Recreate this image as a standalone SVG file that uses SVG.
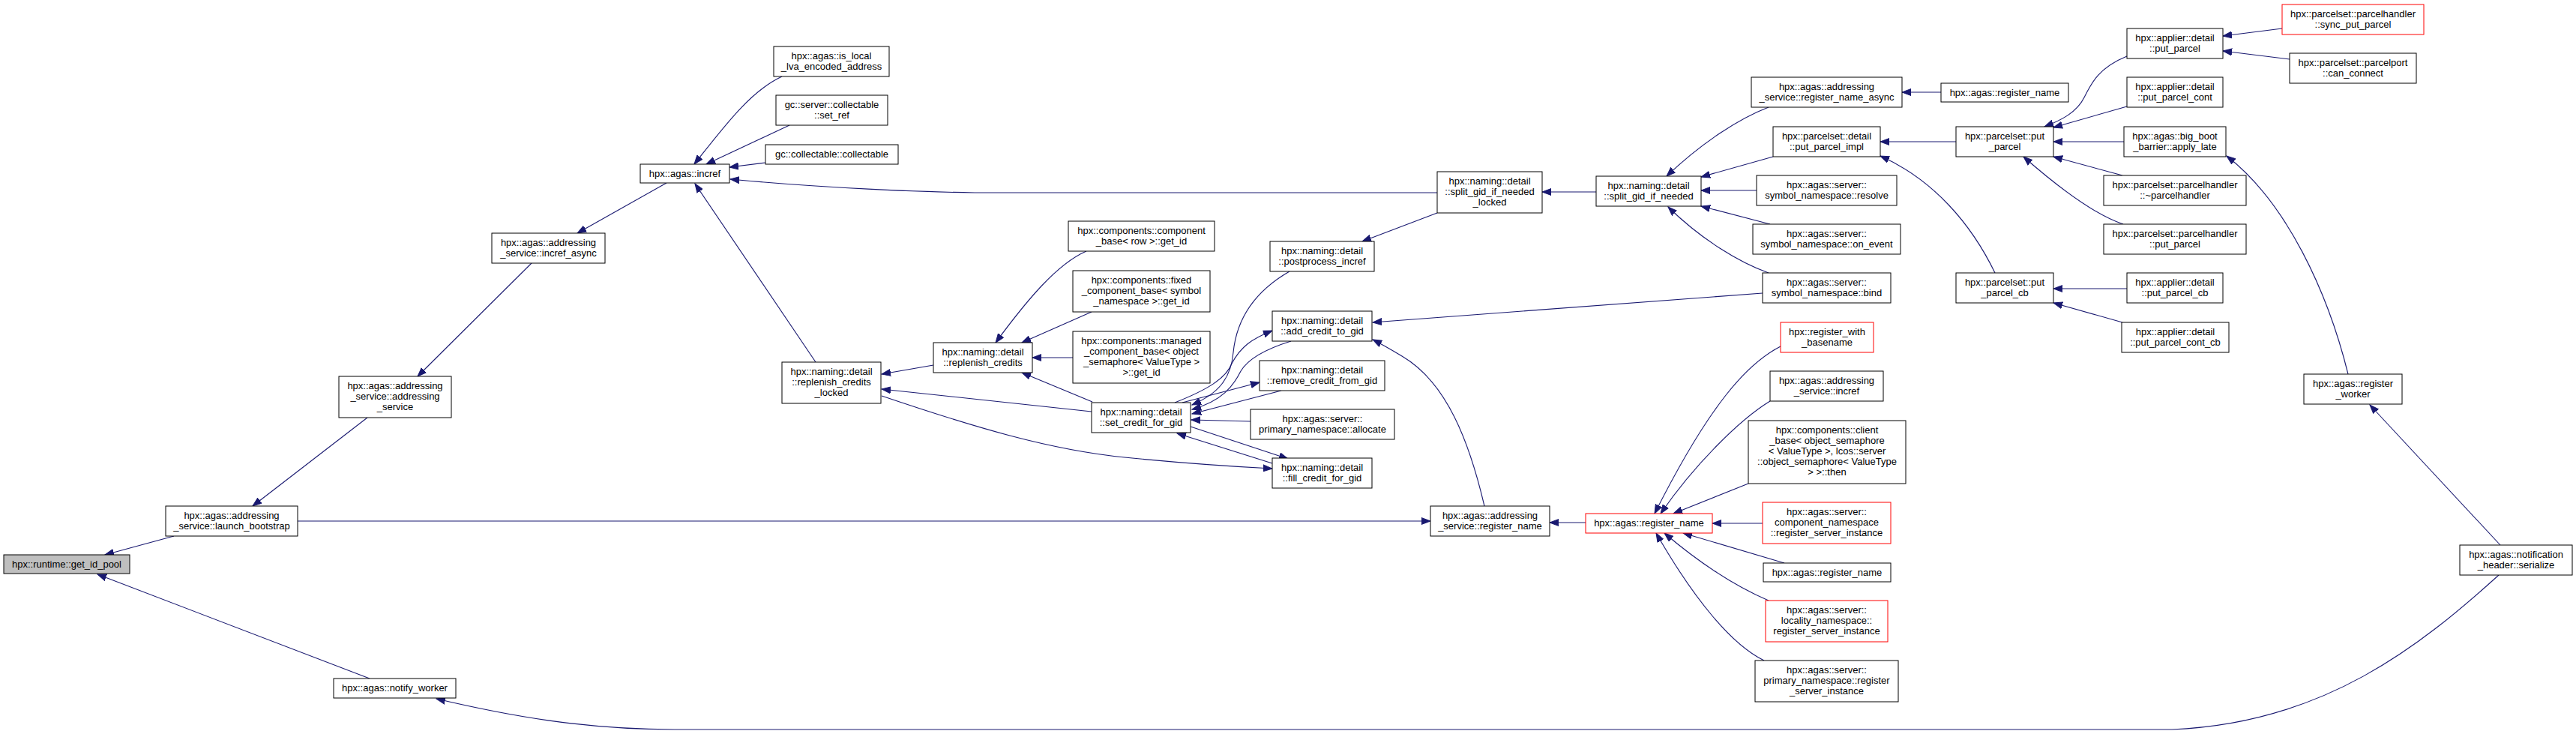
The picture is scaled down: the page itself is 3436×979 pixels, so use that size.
<svg xmlns="http://www.w3.org/2000/svg" width="3436" height="979" viewBox="0 0 3436 979">
<style>
.n rect{fill:#fff;stroke:#000;stroke-width:1}
.n.red rect{stroke:#ff0000}
.n.root rect{fill:#bfbfbf}
.n text{font-family:"Liberation Sans",Arial,sans-serif;font-size:13px;fill:#000;text-anchor:middle}
#edges path{fill:none;stroke:#191970;stroke-width:1.1;marker-end:url(#ah)}
</style>
<defs>
<marker id="ah" markerUnits="userSpaceOnUse" markerWidth="13" markerHeight="10" refX="12" refY="5" orient="auto" viewBox="0 0 13 10"><path d="M0,0.5 L12,5 L0,9.5 z" fill="#191970" stroke="#191970"/></marker>
</defs>
<rect width="3436" height="979" fill="#fff"/>
<g id="edges">
<path d="M232,715 L140,740"/>
<path d="M493,905 L130,766"/>
<path d="M490,557 L337,675"/>
<path d="M709,351 L557,502"/>
<path d="M889,244 L770,311"/>
<path d="M1043,102 C1000,122 965,170 926,219"/>
<path d="M1053,167 L942,219"/>
<path d="M1021,217 L973,223"/>
<path d="M1917,257 L1300,257 C1230,256 1100,251 974,239"/>
<path d="M1088,483 L927,245"/>
<path d="M1245,487 L1176,499"/>
<path d="M1456,549 L1176,519"/>
<path d="M1176,528 C1300,570 1400,600 1500,610 C1580,618 1640,622 1697,625"/>
<path d="M1449,335 C1410,352 1370,400 1328,457"/>
<path d="M1456,416 L1363,457"/>
<path d="M1431,477 L1377,477"/>
<path d="M1457,536 L1363,497"/>
<path d="M1567,537 C1610,520 1635,505 1643,485 C1655,462 1670,452 1697,441"/>
<path d="M1577,537 L1680,510"/>
<path d="M1720,362 C1680,385 1650,420 1645,470 C1642,505 1625,525 1590,540"/>
<path d="M1722,455 C1690,465 1665,478 1655,495 C1645,515 1630,535 1590,546"/>
<path d="M1709,521 L1590,552"/>
<path d="M1668,562 L1589,560"/>
<path d="M1588,569 L1718,612"/>
<path d="M1697,618 L1570,578"/>
<path d="M2351,391 L1831,430"/>
<path d="M1980,675 C1960,590 1930,510 1870,475 C1855,466 1845,460 1831,453"/>
<path d="M1917,284 L1817,322"/>
<path d="M2129,256 L2057,256"/>
<path d="M2359,143 C2320,158 2270,190 2223,235"/>
<path d="M2365,209 L2269,236"/>
<path d="M2343,254 L2269,254"/>
<path d="M2361,299 L2269,275"/>
<path d="M2359,364 C2320,350 2270,320 2225,276"/>
<path d="M2589,123 L2537,123"/>
<path d="M2609,189 L2508,189"/>
<path d="M2661,364 C2630,300 2580,240 2508,208"/>
<path d="M2837,75 C2800,90 2790,110 2780,130 C2770,150 2750,160 2727,169"/>
<path d="M2837,142 L2739,170"/>
<path d="M2833,189 L2739,189"/>
<path d="M2831,234 L2739,209"/>
<path d="M2832,299 C2790,285 2740,245 2699,209"/>
<path d="M2837,385 L2739,385"/>
<path d="M2831,430 L2739,404"/>
<path d="M3044,38 L2965,48"/>
<path d="M3054,79 L2965,68"/>
<path d="M3132,499 C3105,390 3050,270 2970,208"/>
<path d="M3335,727 L3161,540"/>
<path d="M3333,767 C3230,860 3100,965 2897,973 L900,973 C780,973 680,955 582,932"/>
<path d="M397,695 L1908,695"/>
<path d="M2115,697 L2067,697"/>
<path d="M2375,462 C2330,485 2280,540 2207,685"/>
<path d="M2361,535 C2320,560 2260,620 2215,685"/>
<path d="M2332,645 L2232,685"/>
<path d="M2351,698 L2284,698"/>
<path d="M2380,751 L2245,711"/>
<path d="M2359,801 C2310,780 2260,745 2220,711"/>
<path d="M2353,881 C2310,860 2260,800 2209,711"/>
</g>
<g id="n0" class="n root"><rect x="5" y="740" width="168" height="25"/><text x="89" y="757">hpx::runtime::get_id_pool</text></g>
<g id="n1" class="n"><rect x="221" y="675" width="176" height="40"/><text x="309" y="692">hpx::agas::addressing</text><text x="309" y="706">_service::launch_bootstrap</text></g>
<g id="n2" class="n"><rect x="452" y="502" width="150" height="55"/><text x="527" y="519">hpx::agas::addressing</text><text x="527" y="533">_service::addressing</text><text x="527" y="547">_service</text></g>
<g id="n3" class="n"><rect x="445" y="905" width="163" height="26"/><text x="526.5" y="922">hpx::agas::notify_worker</text></g>
<g id="n4" class="n"><rect x="656" y="311" width="151" height="40"/><text x="731.5" y="328">hpx::agas::addressing</text><text x="731.5" y="342">_service::incref_async</text></g>
<g id="n5" class="n"><rect x="854" y="219" width="119" height="25"/><text x="913.5" y="236">hpx::agas::incref</text></g>
<g id="n6" class="n"><rect x="1032" y="62" width="154" height="40"/><text x="1109" y="79">hpx::agas::is_local</text><text x="1109" y="93">_lva_encoded_address</text></g>
<g id="n7" class="n"><rect x="1035" y="127" width="149" height="40"/><text x="1109.5" y="144">gc::server::collectable</text><text x="1109.5" y="158">::set_ref</text></g>
<g id="n8" class="n"><rect x="1021" y="193" width="177" height="26"/><text x="1109.5" y="210">gc::collectable::collectable</text></g>
<g id="n9" class="n"><rect x="1043" y="483" width="132" height="55"/><text x="1109" y="500">hpx::naming::detail</text><text x="1109" y="514">::replenish_credits</text><text x="1109" y="528">_locked</text></g>
<g id="n10" class="n"><rect x="1425" y="295" width="195" height="40"/><text x="1522.5" y="312">hpx::components::component</text><text x="1522.5" y="326">_base&lt; row &gt;::get_id</text></g>
<g id="n11" class="n"><rect x="1431" y="361" width="183" height="55"/><text x="1522.5" y="378">hpx::components::fixed</text><text x="1522.5" y="392">_component_base&lt; symbol</text><text x="1522.5" y="406">_namespace &gt;::get_id</text></g>
<g id="n12" class="n"><rect x="1431" y="442" width="183" height="69"/><text x="1522.5" y="459">hpx::components::managed</text><text x="1522.5" y="473">_component_base&lt; object</text><text x="1522.5" y="487">_semaphore&lt; ValueType &gt;</text><text x="1522.5" y="501">&gt;::get_id</text></g>
<g id="n13" class="n"><rect x="1245" y="457" width="132" height="40"/><text x="1311" y="474">hpx::naming::detail</text><text x="1311" y="488">::replenish_credits</text></g>
<g id="n14" class="n"><rect x="1456" y="537" width="132" height="40"/><text x="1522" y="554">hpx::naming::detail</text><text x="1522" y="568">::set_credit_for_gid</text></g>
<g id="n15" class="n"><rect x="1694" y="322" width="139" height="40"/><text x="1763.5" y="339">hpx::naming::detail</text><text x="1763.5" y="353">::postprocess_incref</text></g>
<g id="n16" class="n"><rect x="1697" y="415" width="133" height="40"/><text x="1763.5" y="432">hpx::naming::detail</text><text x="1763.5" y="446">::add_credit_to_gid</text></g>
<g id="n17" class="n"><rect x="1680" y="481" width="167" height="40"/><text x="1763.5" y="498">hpx::naming::detail</text><text x="1763.5" y="512">::remove_credit_from_gid</text></g>
<g id="n18" class="n"><rect x="1668" y="546" width="192" height="40"/><text x="1764" y="563">hpx::agas::server::</text><text x="1764" y="577">primary_namespace::allocate</text></g>
<g id="n19" class="n"><rect x="1697" y="611" width="133" height="40"/><text x="1763.5" y="628">hpx::naming::detail</text><text x="1763.5" y="642">::fill_credit_for_gid</text></g>
<g id="n20" class="n"><rect x="1917" y="229" width="140" height="55"/><text x="1987" y="246">hpx::naming::detail</text><text x="1987" y="260">::split_gid_if_needed</text><text x="1987" y="274">_locked</text></g>
<g id="n21" class="n"><rect x="1908" y="675" width="159" height="40"/><text x="1987.5" y="692">hpx::agas::addressing</text><text x="1987.5" y="706">_service::register_name</text></g>
<g id="n22" class="n"><rect x="2129" y="235" width="140" height="40"/><text x="2199" y="252">hpx::naming::detail</text><text x="2199" y="266">::split_gid_if_needed</text></g>
<g id="n23" class="n red"><rect x="2115" y="685" width="169" height="26"/><text x="2199.5" y="702">hpx::agas::register_name</text></g>
<g id="n24" class="n"><rect x="2336" y="103" width="201" height="40"/><text x="2436.5" y="120">hpx::agas::addressing</text><text x="2436.5" y="134">_service::register_name_async</text></g>
<g id="n25" class="n"><rect x="2365" y="169" width="143" height="40"/><text x="2436.5" y="186">hpx::parcelset::detail</text><text x="2436.5" y="200">::put_parcel_impl</text></g>
<g id="n26" class="n"><rect x="2343" y="234" width="187" height="40"/><text x="2436.5" y="251">hpx::agas::server::</text><text x="2436.5" y="265">symbol_namespace::resolve</text></g>
<g id="n27" class="n"><rect x="2338" y="299" width="197" height="40"/><text x="2436.5" y="316">hpx::agas::server::</text><text x="2436.5" y="330">symbol_namespace::on_event</text></g>
<g id="n28" class="n"><rect x="2351" y="364" width="171" height="40"/><text x="2436.5" y="381">hpx::agas::server::</text><text x="2436.5" y="395">symbol_namespace::bind</text></g>
<g id="n29" class="n red"><rect x="2375" y="430" width="124" height="40"/><text x="2437" y="447">hpx::register_with</text><text x="2437" y="461">_basename</text></g>
<g id="n30" class="n"><rect x="2361" y="495" width="151" height="40"/><text x="2436.5" y="512">hpx::agas::addressing</text><text x="2436.5" y="526">_service::incref</text></g>
<g id="n31" class="n"><rect x="2332" y="561" width="210" height="84"/><text x="2437" y="578">hpx::components::client</text><text x="2437" y="592">_base&lt; object_semaphore</text><text x="2437" y="606">&lt; ValueType &gt;, lcos::server</text><text x="2437" y="620">::object_semaphore&lt; ValueType</text><text x="2437" y="634">&gt; &gt;::then</text></g>
<g id="n32" class="n red"><rect x="2351" y="670" width="171" height="55"/><text x="2436.5" y="687">hpx::agas::server::</text><text x="2436.5" y="701">component_namespace</text><text x="2436.5" y="715">::register_server_instance</text></g>
<g id="n33" class="n"><rect x="2352" y="751" width="170" height="25"/><text x="2437" y="768">hpx::agas::register_name</text></g>
<g id="n34" class="n red"><rect x="2355" y="801" width="163" height="55"/><text x="2436.5" y="818">hpx::agas::server::</text><text x="2436.5" y="832">locality_namespace::</text><text x="2436.5" y="846">register_server_instance</text></g>
<g id="n35" class="n"><rect x="2341" y="881" width="191" height="55"/><text x="2436.5" y="898">hpx::agas::server::</text><text x="2436.5" y="912">primary_namespace::register</text><text x="2436.5" y="926">_server_instance</text></g>
<g id="n36" class="n"><rect x="2589" y="111" width="170" height="25"/><text x="2674" y="128">hpx::agas::register_name</text></g>
<g id="n37" class="n"><rect x="2609" y="169" width="130" height="40"/><text x="2674" y="186">hpx::parcelset::put</text><text x="2674" y="200">_parcel</text></g>
<g id="n38" class="n"><rect x="2609" y="364" width="130" height="40"/><text x="2674" y="381">hpx::parcelset::put</text><text x="2674" y="395">_parcel_cb</text></g>
<g id="n39" class="n"><rect x="2837" y="38" width="128" height="40"/><text x="2901" y="55">hpx::applier::detail</text><text x="2901" y="69">::put_parcel</text></g>
<g id="n40" class="n"><rect x="2837" y="103" width="128" height="40"/><text x="2901" y="120">hpx::applier::detail</text><text x="2901" y="134">::put_parcel_cont</text></g>
<g id="n41" class="n"><rect x="2833" y="169" width="136" height="40"/><text x="2901" y="186">hpx::agas::big_boot</text><text x="2901" y="200">_barrier::apply_late</text></g>
<g id="n42" class="n"><rect x="2806" y="234" width="190" height="40"/><text x="2901" y="251">hpx::parcelset::parcelhandler</text><text x="2901" y="265">::~parcelhandler</text></g>
<g id="n43" class="n"><rect x="2806" y="299" width="190" height="40"/><text x="2901" y="316">hpx::parcelset::parcelhandler</text><text x="2901" y="330">::put_parcel</text></g>
<g id="n44" class="n"><rect x="2837" y="364" width="128" height="40"/><text x="2901" y="381">hpx::applier::detail</text><text x="2901" y="395">::put_parcel_cb</text></g>
<g id="n45" class="n"><rect x="2830" y="430" width="143" height="40"/><text x="2901.5" y="447">hpx::applier::detail</text><text x="2901.5" y="461">::put_parcel_cont_cb</text></g>
<g id="n46" class="n red"><rect x="3044" y="6" width="189" height="40"/><text x="3138.5" y="23">hpx::parcelset::parcelhandler</text><text x="3138.5" y="37">::sync_put_parcel</text></g>
<g id="n47" class="n"><rect x="3054" y="71" width="169" height="40"/><text x="3138.5" y="88">hpx::parcelset::parcelport</text><text x="3138.5" y="102">::can_connect</text></g>
<g id="n48" class="n"><rect x="3073" y="499" width="131" height="40"/><text x="3138.5" y="516">hpx::agas::register</text><text x="3138.5" y="530">_worker</text></g>
<g id="n49" class="n"><rect x="3281" y="727" width="150" height="40"/><text x="3356" y="744">hpx::agas::notification</text><text x="3356" y="758">_header::serialize</text></g>
</svg>
